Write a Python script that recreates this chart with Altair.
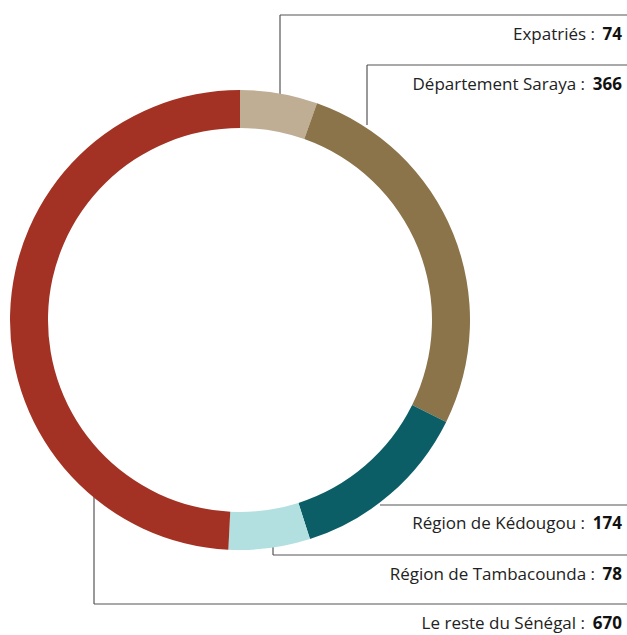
import altair as alt
import pandas as pd

categories = ["Expatriés", "Département Saraya", "Région de Kédougou", "Région de Tambacounda", "Le reste du Sénégal"]
values = [74, 366, 174, 78, 670]
colors = ["#BFAD94", "#8B734A", "#0B5E66", "#B2DFDF", "#A33224"]

# label placement (pixel layout)
label_y = [35, 85, 524, 575, 624]
# leader lines: vertical part (x, y_from, y_to) and horizontal part at y_to
lead_x = [280, 367, 380, 273, 94]
lead_y1 = [95, 125, 505, 540, 490]
lead_y2 = [15, 65, 505, 555, 604]

W, H = 627, 635
CX, CY = 240, 320
FONT = "Open Sans"
FS = 17
DIGIT_W = 10
GAP = 7

df = pd.DataFrame({"cat": categories, "val": values, "order": list(range(5))})

segs = []
for i in range(5):
    segs.append({"x": lead_x[i], "y": lead_y1[i], "x2": lead_x[i], "y2": lead_y2[i]})
    segs.append({"x": lead_x[i], "y": lead_y2[i], "x2": W, "y2": lead_y2[i]})
seg_df = pd.DataFrame(segs)

lab_df = pd.DataFrame({
    "label": [c + " :" for c in categories],
    "value": [str(v) for v in values],
    "y": label_y,
    "xl": [622 - len(str(v)) * DIGIT_W - GAP for v in values],
})

xs = alt.Scale(domain=[0, W], range=[0, W])
ys = alt.Scale(domain=[0, H], range=[0, H])

rules = alt.Chart(seg_df).mark_rule(color="#555555", strokeWidth=1.2).encode(
    x=alt.X("x:Q", scale=xs, axis=None),
    y=alt.Y("y:Q", scale=ys, axis=None),
    x2="x2:Q",
    y2="y2:Q",
)

arcs = alt.Chart(df).mark_arc(outerRadius=230, innerRadius=192, stroke=None).encode(
    theta=alt.Theta("val:Q", stack=True),
    order=alt.Order("order:Q"),
    color=alt.Color("cat:N", scale=alt.Scale(domain=categories, range=colors), legend=None),
    x=alt.value(CX),
    y=alt.value(CY),
)

txt_label = alt.Chart(lab_df).mark_text(align="right", baseline="middle", font=FONT, fontSize=FS, color="#222222").encode(
    x=alt.X("xl:Q", scale=xs, axis=None),
    y=alt.Y("y:Q", scale=ys, axis=None),
    text="label:N",
)
txt_val = alt.Chart(lab_df).mark_text(align="right", baseline="middle", font=FONT, fontSize=FS, fontWeight="bold", color="#111111").encode(
    x=alt.value(622),
    y=alt.Y("y:Q", scale=ys, axis=None),
    text="value:N",
)

chart = alt.layer(rules, arcs, txt_label, txt_val).resolve_scale(theta="independent").properties(
    width=W, height=H, padding=0, autosize=alt.AutoSizeParams(type="none")
).configure_view(stroke=None)

chart.save("out.html", embed_options={"renderer": "svg", "actions": False})
